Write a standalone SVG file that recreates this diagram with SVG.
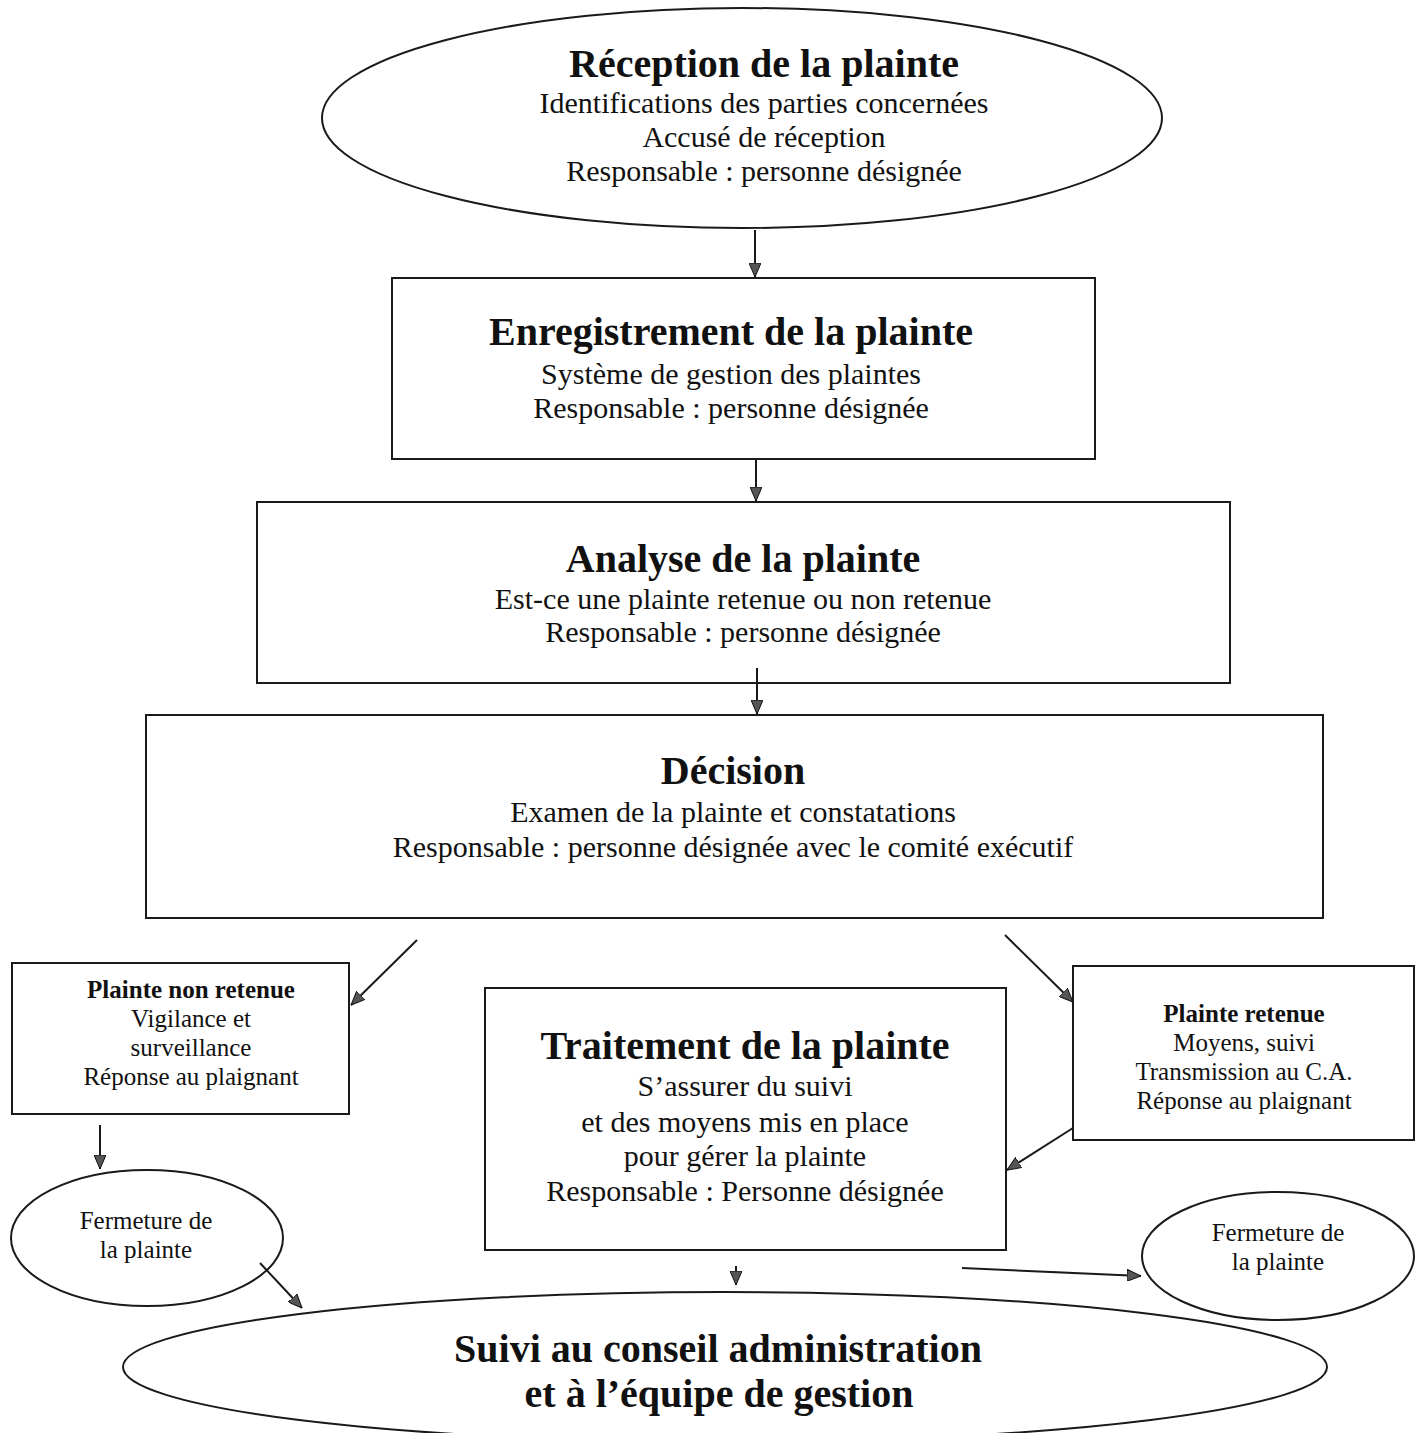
<svg xmlns="http://www.w3.org/2000/svg" width="1422" height="1433" viewBox="0 0 1422 1433">
<defs>
<style>
.shape{fill:#fff;stroke:#1a1a1a;stroke-width:2}
.conn{stroke:#1a1a1a;stroke-width:2;fill:none;marker-end:url(#arr)}
text{font-family:"Liberation Serif","Times New Roman",serif;fill:#111;text-anchor:middle}
.t{font-size:40px;font-weight:bold}
.s{font-size:30px}
.sb{font-size:25px;font-weight:bold}
.ss{font-size:25px}
</style>
<marker id="arr" viewBox="0 0 14 12" refX="14" refY="6" markerWidth="14" markerHeight="12" markerUnits="userSpaceOnUse" orient="auto">
<path d="M0,0 L14,6 L0,12 z" fill="#555" stroke="#111" stroke-width="1"/>
</marker>
</defs>
<rect width="1422" height="1433" fill="#fff"/>

<g id="reception">
<ellipse class="shape" cx="742" cy="118" rx="420" ry="110"/>
<text class="t" x="764" y="77">Réception de la plainte</text>
<text class="s" x="764" y="113">Identifications des parties concernées</text>
<text class="s" x="764" y="147">Accusé de réception</text>
<text class="s" x="764" y="181">Responsable : personne désignée</text>
</g>

<g id="enregistrement">
<rect class="shape" x="392" y="278" width="703" height="181"/>
<text class="t" x="731" y="345">Enregistrement de la plainte</text>
<text class="s" x="731" y="384">Système de gestion des plaintes</text>
<text class="s" x="731" y="418">Responsable : personne désignée</text>
</g>

<g id="analyse">
<rect class="shape" x="257" y="502" width="973" height="181"/>
<text class="t" x="743" y="572">Analyse de la plainte</text>
<text class="s" x="743" y="609">Est-ce une plainte retenue ou non retenue</text>
<text class="s" x="743" y="642">Responsable : personne désignée</text>
</g>

<g id="decision">
<rect class="shape" x="146" y="715" width="1177" height="203"/>
<text class="t" x="733" y="784">Décision</text>
<text class="s" x="733" y="822">Examen de la plainte et constatations</text>
<text class="s" x="733" y="857">Responsable : personne désignée avec le comité exécutif</text>
</g>

<g id="non-retenue">
<rect class="shape" x="12" y="963" width="337" height="151"/>
<text class="sb" x="191" y="998">Plainte non retenue</text>
<text class="ss" x="191" y="1027">Vigilance et</text>
<text class="ss" x="191" y="1056">surveillance</text>
<text class="ss" x="191" y="1085">Réponse au plaignant</text>
</g>

<g id="traitement">
<rect class="shape" x="485" y="988" width="521" height="262"/>
<text class="t" x="745" y="1059">Traitement de la plainte</text>
<text class="s" x="745" y="1096">S’assurer du suivi</text>
<text class="s" x="745" y="1132">et des moyens mis en place</text>
<text class="s" x="745" y="1166">pour gérer la plainte</text>
<text class="s" x="745" y="1201">Responsable : Personne désignée</text>
</g>

<g id="retenue">
<rect class="shape" x="1073" y="966" width="341" height="174"/>
<text class="sb" x="1244" y="1022">Plainte retenue</text>
<text class="ss" x="1244" y="1051">Moyens, suivi</text>
<text class="ss" x="1244" y="1080">Transmission au C.A.</text>
<text class="ss" x="1244" y="1109">Réponse au plaignant</text>
</g>

<g id="fermeture-gauche">
<ellipse class="shape" cx="147" cy="1238" rx="136" ry="68"/>
<text class="ss" x="146" y="1229">Fermeture de</text>
<text class="ss" x="146" y="1258">la plainte</text>
</g>

<g id="fermeture-droite">
<ellipse class="shape" cx="1278" cy="1256" rx="136" ry="64"/>
<text class="ss" x="1278" y="1241">Fermeture de</text>
<text class="ss" x="1278" y="1270">la plainte</text>
</g>

<g id="suivi">
<ellipse class="shape" cx="725" cy="1367" rx="602" ry="75"/>
<text class="t" x="718" y="1362">Suivi au conseil administration</text>
<text class="t" x="719" y="1407">et à l’équipe de gestion</text>
</g>

<g id="connectors">
<line class="conn" x1="755" y1="230" x2="755" y2="277"/>
<line class="conn" x1="756" y1="460" x2="756" y2="501"/>
<line class="conn" x1="757" y1="668" x2="757" y2="714"/>
<line class="conn" x1="417" y1="940" x2="351" y2="1005"/>
<line class="conn" x1="1005" y1="935" x2="1073" y2="1002"/>
<line class="conn" x1="1073" y1="1128" x2="1007" y2="1170"/>
<line class="conn" x1="100" y1="1125" x2="100" y2="1169"/>
<line class="conn" x1="260" y1="1263" x2="302" y2="1308"/>
<line class="conn" x1="736" y1="1266" x2="736" y2="1285"/>
<line class="conn" x1="962" y1="1268" x2="1141" y2="1276"/>
</g>
</svg>
